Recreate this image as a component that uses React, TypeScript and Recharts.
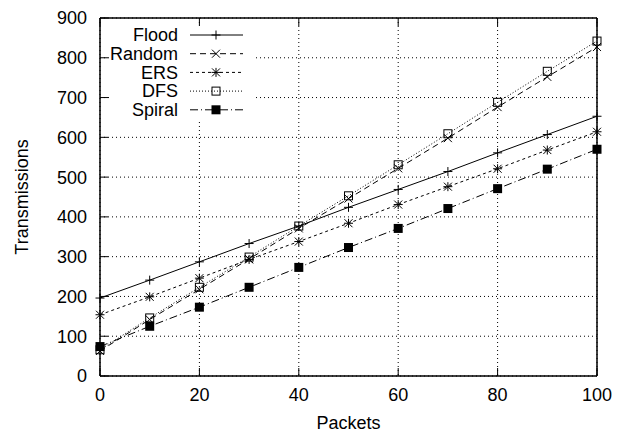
import React from "react";
import {
    LineChart,
    Line,
    XAxis,
    YAxis,
    CartesianGrid,
    Legend,
} from "recharts";

const packets = [0, 10, 20, 30, 40, 50, 60, 70, 80, 90, 100];
const flood = [196, 241, 287, 333, 377, 424, 469, 514, 561, 607, 653];
const random = [63, 142, 218, 294, 371, 446, 522, 598, 676, 752, 827];
const ers = [154, 199, 246, 293, 338, 384, 431, 476, 521, 568, 614];
const dfs = [66, 146, 223, 299, 377, 453, 531, 609, 688, 766, 842];
const spiral = [74, 125, 173, 223, 273, 323, 371, 421, 471, 520, 570];

const xTicks = [0, 20, 40, 60, 80, 100];
const yTicks = [0, 100, 200, 300, 400, 500, 600, 700, 800, 900];

type MarkKind = "plus" | "cross" | "star" | "box" | "fbox";

const series: { key: string; name: string; dash?: string; mark: MarkKind }[] = [
    { key: "flood", name: "Flood", mark: "plus" },
    { key: "random", name: "Random", dash: "6 4", mark: "cross" },
    { key: "ers", name: "ERS", dash: "3 3", mark: "star" },
    { key: "dfs", name: "DFS", dash: "1 2", mark: "box" },
    { key: "spiral", name: "Spiral", dash: "8 3 1 3", mark: "fbox" },
];

const data = packets.map((p, i) => ({
    p,
    flood: flood[i],
    random: random[i],
    ers: ers[i],
    dfs: dfs[i],
    spiral: spiral[i],
}));

const FONT = "'Liberation Sans', Arial, sans-serif";

const Marker = ({ cx, cy, kind }: { cx: number; cy: number; kind: MarkKind }) => {
    const h = 4.5;
    const s = { stroke: "#000", strokeWidth: 1 };
    if (kind === "plus")
        return (
            <g>
                <line x1={cx - h} y1={cy} x2={cx + h} y2={cy} {...s} />
                <line x1={cx} y1={cy - h} x2={cx} y2={cy + h} {...s} />
            </g>
        );
    if (kind === "cross")
        return (
            <g>
                <line x1={cx - 4} y1={cy - 4} x2={cx + 4} y2={cy + 4} {...s} />
                <line x1={cx - 4} y1={cy + 4} x2={cx + 4} y2={cy - 4} {...s} />
            </g>
        );
    if (kind === "star")
        return (
            <g>
                <line x1={cx - h} y1={cy} x2={cx + h} y2={cy} {...s} />
                <line x1={cx} y1={cy - h} x2={cx} y2={cy + h} {...s} />
                <line x1={cx - 4} y1={cy - 4} x2={cx + 4} y2={cy + 4} {...s} />
                <line x1={cx - 4} y1={cy + 4} x2={cx + 4} y2={cy - 4} {...s} />
            </g>
        );
    if (kind === "box")
        return <rect x={cx - 4} y={cy - 4} width={8} height={8} fill="none" {...s} />;
    return <rect x={cx - 4.5} y={cy - 4.5} width={9} height={9} fill="#000" />;
};

const makeDot = (kind: MarkKind) => (props: any) => {
    const { cx, cy, index } = props;
    if (cx == null || cy == null) return <g key={index} />;
    return (
        <g key={`${kind}-${index}`}>
            <Marker cx={cx} cy={cy} kind={kind} />
        </g>
    );
};

const KeyBox = () => (
    <svg width={144} height={95} style={{ display: "block", background: "#fff", overflow: "visible" }}>
        {series.map((s, i) => {
            const y = 9 + i * 18.7;
            return (
                <g key={s.key}>
                    <text
                        x={69}
                        y={y}
                        dy="0.35em"
                        textAnchor="end"
                        fontSize={18}
                        fontFamily={FONT}
                        fill="#000"
                    >
                        {s.name}
                    </text>
                    <line
                        x1={81}
                        y1={y}
                        x2={134}
                        y2={y}
                        stroke="#000"
                        strokeWidth={1}
                        strokeDasharray={s.dash}
                    />
                    <Marker cx={107} cy={y} kind={s.mark} />
                </g>
            );
        })}
    </svg>
);

const YTitle = ({ viewBox }: any) => {
    const x = viewBox.x + 22;
    const y = viewBox.y + viewBox.height / 2;
    return (
        <text
            x={x}
            y={y}
            transform={`rotate(-90, ${x}, ${y})`}
            textAnchor="middle"
            dy="0.35em"
            fontSize={18}
            fontFamily={FONT}
            fill="#000"
        >
            Transmissions
        </text>
    );
};

const axisLine = { stroke: "#000", strokeWidth: 1.5 };
const tickLine = { stroke: "#000", strokeWidth: 1 };
const tickStyle = { fontSize: 18, fill: "#000", fontFamily: FONT };
const blank = () => "";

export default function App() {
    return (
        <div style={{ position: "absolute", left: 0, top: 0, width: 618, height: 435, background: "#fff", fontFamily: FONT }}>
            <LineChart width={618} height={435} data={data} margin={{ top: 0, right: 0, bottom: 0, left: 0 }}>
                <CartesianGrid stroke="#000" strokeDasharray="1 3" strokeWidth={1} />
                <XAxis
                    dataKey="p"
                    type="number"
                    domain={[0, 100]}
                    ticks={xTicks}
                    height={59}
                    tickSize={-8}
                    tickMargin={20}
                    axisLine={axisLine}
                    tickLine={tickLine}
                    tick={tickStyle}
                    label={{ value: "Packets", position: "insideBottom", offset: 6, fontSize: 18, fill: "#000", fontFamily: FONT }}
                />
                <XAxis
                    xAxisId="top"
                    orientation="top"
                    dataKey="p"
                    type="number"
                    domain={[0, 100]}
                    ticks={xTicks}
                    height={18}
                    tickSize={-8}
                    axisLine={axisLine}
                    tickLine={tickLine}
                    tickFormatter={blank}
                />
                <YAxis
                    type="number"
                    domain={[0, 900]}
                    ticks={yTicks}
                    width={100}
                    tickSize={-8}
                    tickMargin={21}
                    axisLine={axisLine}
                    tickLine={tickLine}
                    tick={tickStyle}
                    label={<YTitle />}
                />
                <YAxis
                    yAxisId="right"
                    orientation="right"
                    type="number"
                    domain={[0, 900]}
                    ticks={yTicks}
                    width={21}
                    tickSize={-8}
                    axisLine={axisLine}
                    tickLine={tickLine}
                    tickFormatter={blank}
                />
                <Legend
                    layout="horizontal"
                    verticalAlign="middle"
                    align="center"
                    wrapperStyle={{ left: 109, top: 26, width: 144, height: 95 }}
                    content={() => <KeyBox />}
                />
                {series.map((s) => (
                    <Line
                        key={s.key}
                        dataKey={s.key}
                        name={s.name}
                        type="linear"
                        stroke="#000"
                        strokeWidth={1}
                        strokeDasharray={s.dash}
                        dot={makeDot(s.mark)}
                        activeDot={false}
                        isAnimationActive={false}
                    />
                ))}
            </LineChart>
        </div>
    );
}
